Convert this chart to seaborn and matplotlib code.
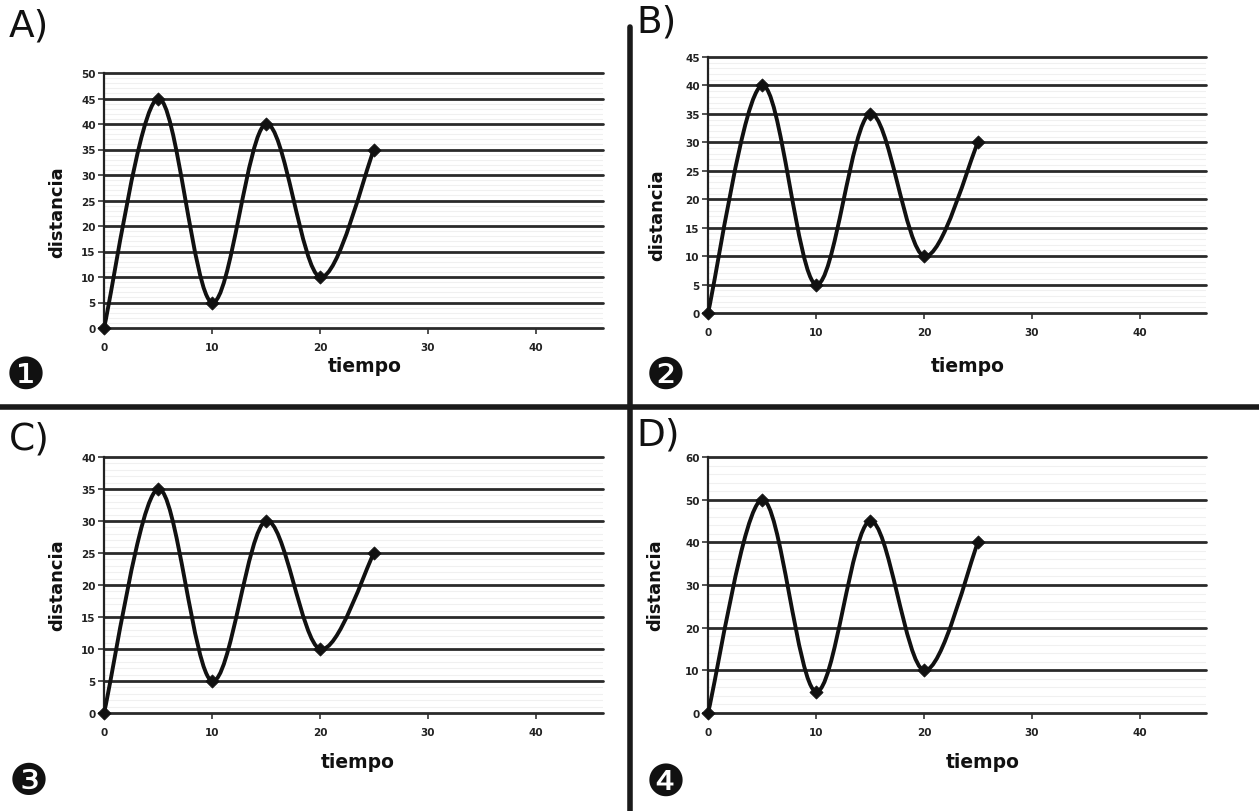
import numpy as np
import pandas as pd
import matplotlib
matplotlib.use("Agg")
import matplotlib.pyplot as plt
from matplotlib.path import Path
from matplotlib.patches import PathPatch
from matplotlib.lines import Line2D
import seaborn as sns

sns.set_style("white")
plt.rcParams['font.family'] = ['DejaVu Sans']

# ---- data ----
tiempo = [0, 5, 10, 15, 20, 25]
dist_A = [0, 45, 5, 40, 10, 35]
dist_B = [0, 40, 5, 35, 10, 30]
dist_C = [0, 35, 5, 30, 10, 25]
dist_D = [0, 50, 5, 45, 10, 40]
letters = ["A)", "B)", "C)", "D)"]
circled = ["\u2776", "\u2777", "\u2778", "\u2779"]
ymax = [50, 45, 40, 60]
ystep = [5, 5, 5, 10]
xticks = [0, 10, 20, 30, 40]

W, H = 1259, 812
fig = plt.figure(figsize=(W / 100, H / 100), dpi=100)
fig.patch.set_facecolor("white")

# pixel rects: left, top, right, bottom
rects = [(104, 74, 603, 329), (708, 58, 1206, 314),
         (104, 458, 603, 714), (708, 458, 1206, 714)]
letter_pos = [(9, 26), (636, 22), (9, 440), (636, 436)]
circ_pos = [(26, 376), (666, 376), (29, 783), (666, 783)]
tiempo_pos = [(365, 366), (968, 366), (358, 763), (983, 763)]
dist_pos = [(57, 212), (657, 215), (57, 585), (655, 585)]

series = [dist_A, dist_B, dist_C, dist_D]


def smooth_path(xs, ys):
    pts = np.column_stack([xs, ys]).astype(float)
    n = len(pts)
    verts = [pts[0]]
    codes = [Path.MOVETO]
    for i in range(n - 1):
        p0 = pts[i - 1] if i > 0 else pts[i]
        p1 = pts[i]
        p2 = pts[i + 1]
        p3 = pts[i + 2] if i + 2 < n else pts[i + 1]
        c1 = p1 + (p2 - p0) / 6.0
        c2 = p2 - (p3 - p1) / 6.0
        verts += [c1, c2, p2]
        codes += [Path.CURVE4] * 3
    return Path(verts, codes)


for k in range(4):
    l, t, r, b = rects[k]
    ax = fig.add_axes([l / W, 1 - b / H, (r - l) / W, (b - t) / H])
    ax.set_xlim(0, (r - l) / 10.8)
    ax.set_ylim(0, ymax[k])
    ax.set_facecolor("white")
    for s in ["top", "right", "bottom"]:
        ax.spines[s].set_visible(False)
    ax.spines["left"].set_color("#222222")
    ax.spines["left"].set_linewidth(1.6)
    # minor grid
    mstep = ystep[k] / 5
    for yv in np.arange(0, ymax[k] + 1e-9, mstep):
        ax.axhline(yv, color="#f0f0f0", lw=0.8, zorder=0)
    for yv in np.arange(0, ymax[k] + 1e-9, ystep[k]):
        ax.axhline(yv, color="#2a2a2a", lw=2.0, zorder=1, clip_on=False)
    ax.set_yticks(np.arange(0, ymax[k] + 1e-9, ystep[k]))
    ax.set_xticks(xticks)
    ax.tick_params(axis="both", length=4, width=1.2, color="#333333",
                   labelsize=7.5, pad=2, left=True, bottom=True)
    for lab in ax.get_xticklabels() + ax.get_yticklabels():
        lab.set_fontweight("bold")
        lab.set_color("#222222")
    ax.tick_params(axis="x", pad=6)

    df = pd.DataFrame({"tiempo": tiempo, "distancia": series[k]})
    patch = PathPatch(smooth_path(df["tiempo"], df["distancia"]), facecolor="none",
                      edgecolor="#111111", lw=2.8, zorder=3, capstyle="round")
    ax.add_patch(patch)
    sns.scatterplot(data=df, x="tiempo", y="distancia", ax=ax, marker="D", s=45,
                    color="#111111", edgecolor="#111111", zorder=4, clip_on=False,
                    legend=False)
    ax.set_xlabel("")
    ax.set_ylabel("")

    lx, ly = letter_pos[k]
    fig.text(lx / W, 1 - ly / H, letters[k], fontsize=27, va="center", ha="left",
             color="#111111")
    cx, cy = circ_pos[k]
    fig.text(cx / W, 1 - cy / H, circled[k], fontsize=32, va="center", ha="center",
             color="#111111")
    tx, ty = tiempo_pos[k]
    fig.text(tx / W, 1 - ty / H, "tiempo", fontsize=13.5, fontweight="bold",
             va="center", ha="center", color="#111111")
    dx, dy = dist_pos[k]
    fig.text(dx / W, 1 - dy / H, "distancia", fontsize=13, fontweight="bold",
             rotation=90, va="center", ha="center", color="#111111")

# dividers
fig.add_artist(Line2D([0, 1], [1 - 408 / H, 1 - 408 / H], color="#1a1a1a", lw=4.0,
                      transform=fig.transFigure))
fig.add_artist(Line2D([630 / W, 630 / W], [1 - 28 / H, 0], color="#1a1a1a", lw=4.0,
                      transform=fig.transFigure))

fig.savefig("out.png", dpi=100, facecolor="white")
